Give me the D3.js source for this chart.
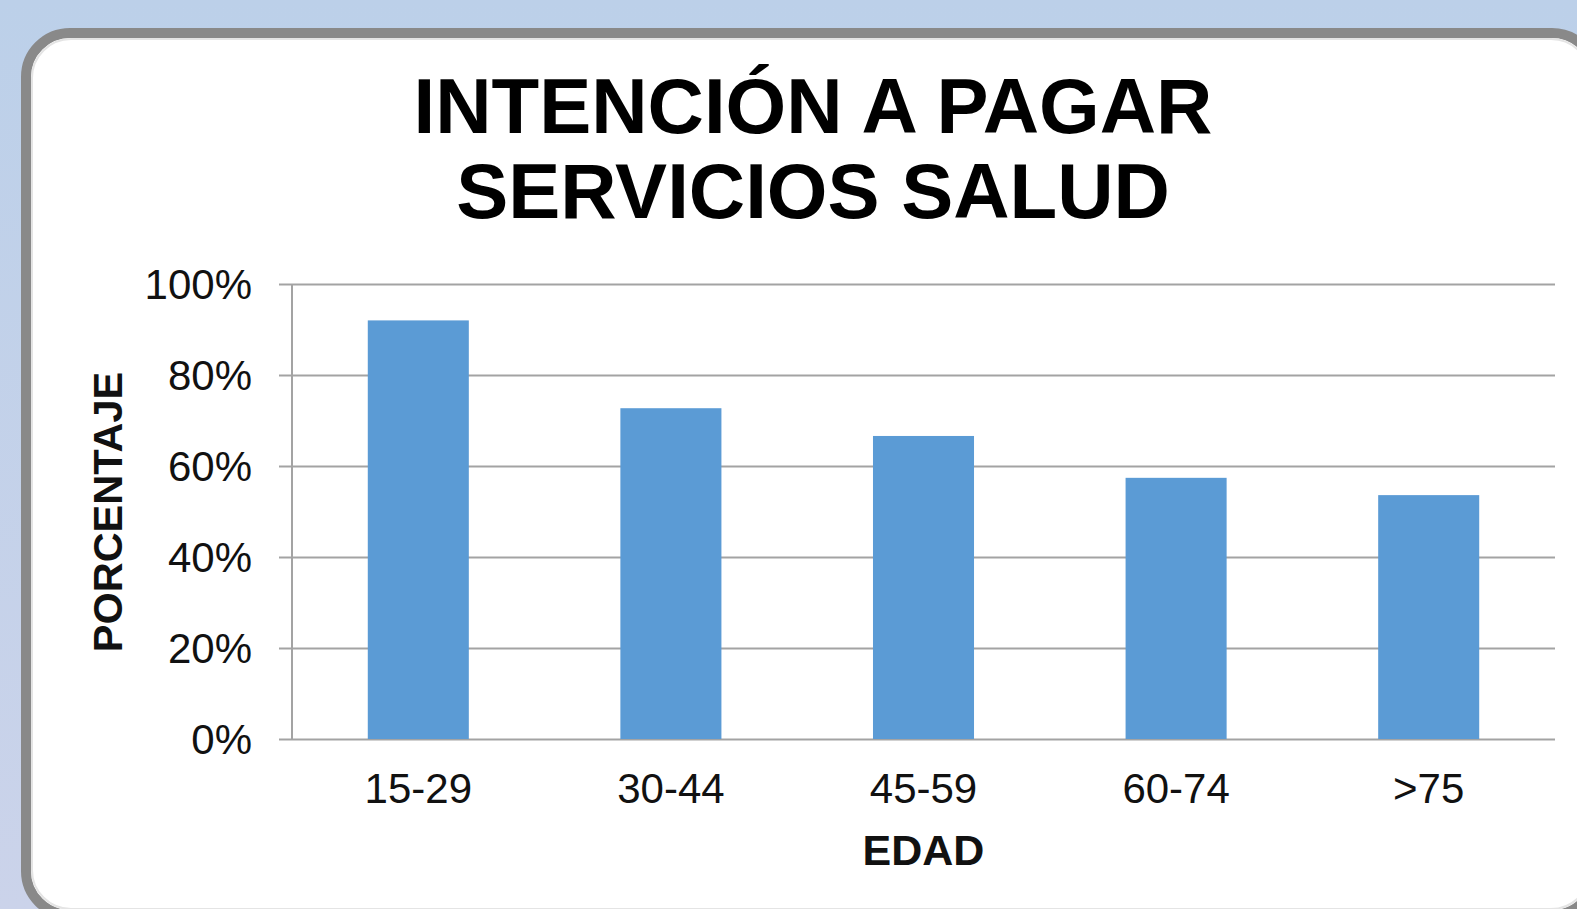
<!DOCTYPE html>
<html>
<head>
<meta charset="utf-8">
<script src="https://cdn.jsdelivr.net/npm/d3@7"></script>
<style>
  html, body { margin: 0; padding: 0; overflow: hidden; }
  svg { display: block; font-family: "Liberation Sans", Arial, sans-serif; }
</style>
</head>
<body>
<svg id="chart"></svg>
<script>
const categories = ["15-29", "30-44", "45-59", "60-74", ">75"];
const values = [0.92, 0.727, 0.666, 0.574, 0.536];
const yTicks = [0, 0.2, 0.4, 0.6, 0.8, 1];
const titleLines = ["INTENCIÓN A PAGAR", "SERVICIOS SALUD"];
const xTitle = "EDAD";
const yTitle = "PORCENTAJE";

const width = 1577, height = 909;
const svg = d3.select("#chart").attr("width", width).attr("height", height);

// background + card
const defs = svg.append("defs");
const bg = defs.append("linearGradient").attr("id", "bg")
  .attr("x1", 0).attr("y1", 0).attr("x2", 0).attr("y2", 1);
bg.append("stop").attr("offset", "0%").attr("stop-color", "#bcd0e9");
bg.append("stop").attr("offset", "100%").attr("stop-color", "#cbd3ea");

svg.append("rect").attr("width", width).attr("height", height).attr("fill", "url(#bg)");

svg.append("rect")
  .attr("x", 26).attr("y", 33)
  .attr("width", 1570).attr("height", 882)
  .attr("rx", 44).attr("ry", 44)
  .attr("fill", "#fff")
  .attr("stroke", "#898989")
  .attr("stroke-width", 10);

// soft inner shadow below the border
svg.append("rect")
  .attr("x", 32).attr("y", 39)
  .attr("width", 1558).attr("height", 870)
  .attr("rx", 39).attr("ry", 39)
  .attr("fill", "none")
  .attr("stroke", "#e4e4e4")
  .attr("stroke-width", 2);

const plotLeft = 292, plotRight = 1555, plotTop = 284, plotBottom = 739;

const x = d3.scaleBand()
  .domain(categories)
  .range([plotLeft, plotRight])
  .paddingInner(0.6)
  .paddingOuter(0.3);

const y = d3.scaleLinear()
  .domain([0, 1])
  .range([plotBottom, plotTop]);

// gridlines + y labels
const yAxis = svg.append("g")
  .attr("transform", "translate(279,0)")
  .call(d3.axisLeft(y)
    .tickValues(yTicks)
    .tickFormat(d3.format(".0%"))
    .tickSize(-(plotRight - 279))
    .tickPadding(27));
yAxis.select(".domain").remove();
yAxis.selectAll(".tick line").attr("stroke", "#a3a3a3").attr("stroke-width", 2);
yAxis.selectAll(".tick text")
  .attr("font-size", 42)
  .attr("font-family", "Liberation Sans, Arial, sans-serif")
  .attr("fill", "#111")
  .attr("dy", "0.34em");

svg.append("line")
  .attr("x1", plotLeft).attr("x2", plotLeft)
  .attr("y1", plotTop).attr("y2", plotBottom)
  .attr("stroke", "#a3a3a3").attr("stroke-width", 2);

// bars
svg.selectAll(".bar")
  .data(values)
  .enter().append("rect")
  .attr("class", "bar")
  .attr("x", (d, i) => x(categories[i]))
  .attr("y", d => y(d))
  .attr("width", x.bandwidth())
  .attr("height", d => y(0) - y(d))
  .attr("fill", "#5b9bd5");

// x labels
const xAxis = svg.append("g")
  .attr("transform", `translate(0,${plotBottom})`)
  .call(d3.axisBottom(x).tickSize(0).tickPadding(34));
xAxis.select(".domain").remove();
xAxis.selectAll(".tick text")
  .attr("font-size", 42)
  .attr("font-family", "Liberation Sans, Arial, sans-serif")
  .attr("fill", "#111");

// titles
svg.selectAll(".title")
  .data(titleLines)
  .enter().append("text")
  .attr("class", "title")
  .attr("x", 813)
  .attr("y", (d, i) => 133 + i * 85)
  .attr("text-anchor", "middle")
  .attr("font-size", 78)
  .attr("font-weight", "bold")
  .attr("fill", "#000")
  .text(d => d);

svg.append("text")
  .attr("x", (plotLeft + plotRight) / 2)
  .attr("y", 865)
  .attr("text-anchor", "middle")
  .attr("font-size", 43)
  .attr("font-weight", "bold")
  .attr("fill", "#111")
  .text(xTitle);

svg.append("text")
  .attr("transform", "translate(122,512) rotate(-90)")
  .attr("text-anchor", "middle")
  .attr("font-size", 41.5)
  .attr("font-weight", "bold")
  .attr("fill", "#111")
  .text(yTitle);
</script>
</body>
</html>
